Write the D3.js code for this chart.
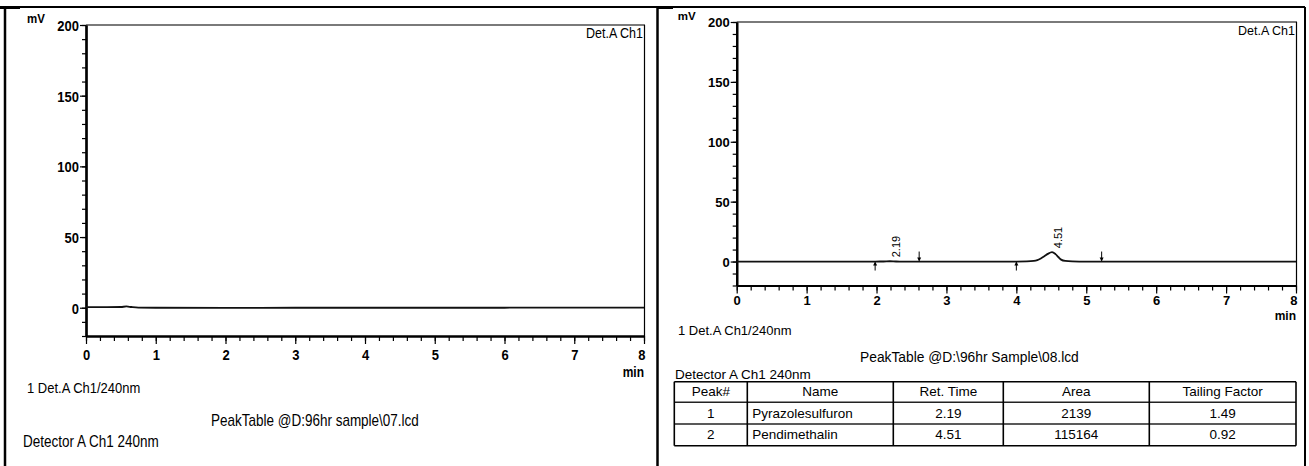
<!DOCTYPE html>
<html><head><meta charset="utf-8">
<script src="https://cdn.jsdelivr.net/npm/d3@7"></script>
<style>
body{margin:0;background:#fff}
svg{display:block}
text{font-family:"Liberation Sans",Arial,sans-serif;fill:#000}
</style>
</head><body>
<svg id="c" width="1309" height="466"></svg>
<script>
// Axis ticks: time (min) and detector signal (mV)
const timeTicks = [0, 1, 2, 3, 4, 5, 6, 7, 8];
const timeMinorStep = 0.2;
const mvTicks = [0, 50, 100, 150, 200];
const mvMinorStep = 10;
const mvDomain = [-20, 200];
const timeDomain = [0, 8];

// Sample 07 (blank) trace
const run07Time   = [0, 0.3, 0.5, 0.58, 0.65, 0.75, 1.0, 2.0, 3.0, 4.0, 5.0, 6.0, 7.0, 8.0];
const run07Signal = [0.4, 0.4, 0.5, 0.9, 0.5, 0.1, 0, -0.1, 0, 0, 0, 0, 0.1, 0.1];

// Sample 08 trace
const run08Time   = [0, 1.0, 1.98, 2.1, 2.19, 2.28, 2.4, 3.0, 4.0, 4.15, 4.25, 4.3, 4.35, 4.4, 4.45, 4.51, 4.56, 4.6, 4.64, 4.7, 4.8, 5.0, 6.0, 7.0, 8.0];
const run08Signal = [0, 0, 0, 0.05, 0.25, 0.05, 0, 0, 0, 0.1, 0.5, 1.2, 2.6, 4.4, 6.4, 7.8, 6.2, 3.8, 1.6, 0.5, 0.15, 0, 0, 0, 0];

// Integration start / end marks for sample 08
const peakStart = [1.98, 4.0];
const peakEnd   = [2.61, 5.22];

// Peak table for sample 08
const tableHeader = ["Peak#", "Name", "Ret. Time", "Area", "Tailing Factor"];
const peakNo   = [1, 2];
const peakName = ["Pyrazolesulfuron", "Pendimethalin"];
const retTime  = [2.19, 4.51];
const peakArea = [2139, 115164];
const tailing  = [1.49, 0.92];

const svg = d3.select("#c");

// outer frame of the two report panels
const frame = svg.append("g").attr("stroke", "#000").attr("fill", "none");
frame.append("line").attr("x1", 0).attr("x2", 1305).attr("y1", 7).attr("y2", 7).attr("stroke-width", 2);
frame.append("line").attr("x1", 0).attr("x2", 20).attr("y1", 7.5).attr("y2", 7.5).attr("stroke-width", 3);
frame.append("line").attr("x1", 657).attr("x2", 673).attr("y1", 7.5).attr("y2", 7.5).attr("stroke-width", 3);
frame.append("line").attr("x1", 5).attr("x2", 5).attr("y1", 7).attr("y2", 466).attr("stroke-width", 2.5);
frame.append("line").attr("x1", 657.5).attr("x2", 657.5).attr("y1", 7).attr("y2", 466).attr("stroke-width", 2.5);
frame.append("line").attr("x1", 1305).attr("x2", 1305).attr("y1", 7).attr("y2", 466).attr("stroke-width", 2);

function range(a, b, step) {
  return d3.range(Math.round(a / step), Math.round(b / step) + 1).map(i => +(i * step).toFixed(6));
}

// the left report page is printed slightly taller: stretch its text vertically
function stretchText(sel, sy) {
  sel.selectAll("text").each(function () {
    const t = d3.select(this);
    const tx = +t.attr("x") || 0, ty = +t.attr("y") || 0;
    const prev = t.attr("transform") || "";
    t.attr("transform", `${prev} translate(${tx},${ty}) scale(1,${sy}) translate(${-tx},${-ty})`);
  });
}

function drawChromatogram(o) {
  const g = svg.append("g");
  const x = d3.scaleLinear().domain(timeDomain).range([o.left, o.right]);
  const y = d3.scaleLinear().domain(mvDomain).range([o.bottom, o.top]);

  // plot box: grey top rule, thin right rule
  g.append("line").attr("x1", o.left).attr("x2", o.right + 1).attr("y1", o.top).attr("y2", o.top)
    .attr("stroke", "#7a7a7a").attr("stroke-width", 2);
  g.append("line").attr("x1", o.right + 0.5).attr("x2", o.right + 0.5).attr("y1", o.top).attr("y2", o.bottom)
    .attr("stroke", "#000").attr("stroke-width", 1.2);

  // y axis: minor then major ticks
  const yMinor = g.append("g").attr("transform", `translate(${o.left},0)`)
    .call(d3.axisLeft(y).tickValues(range(mvDomain[0], mvDomain[1], mvMinorStep)).tickSize(4).tickSizeOuter(0).tickFormat(""));
  const yMajor = g.append("g").attr("transform", `translate(${o.left},0)`)
    .call(d3.axisLeft(y).tickValues(mvTicks).tickSize(6).tickSizeOuter(0).tickPadding(1).tickFormat(d3.format("d")));
  [yMinor, yMajor].forEach(a => {
    a.select(".domain").attr("stroke", "#000").attr("stroke-width", 2.2);
    a.selectAll(".tick line").attr("stroke", "#000").attr("stroke-width", 1.2);
  });
  yMajor.selectAll(".tick text").attr("dy", "0.35em")
    .style("font-family", '"Liberation Sans",Arial,sans-serif').style("font-size", "13px").style("font-weight", "bold");

  // x axis: minor then major ticks
  const xMinor = g.append("g").attr("transform", `translate(0,${o.bottom})`)
    .call(d3.axisBottom(x).tickValues(range(timeDomain[0], timeDomain[1], timeMinorStep)).tickSize(5).tickSizeOuter(0).tickFormat(""));
  const xMajor = g.append("g").attr("transform", `translate(0,${o.bottom})`)
    .call(d3.axisBottom(x).tickValues(timeTicks).tickSize(8).tickSizeOuter(0).tickFormat(d3.format("d")));
  [xMinor, xMajor].forEach(a => {
    a.select(".domain").attr("stroke", "#000").attr("stroke-width", 2.2);
    a.selectAll(".tick line").attr("stroke", "#000").attr("stroke-width", 1.2);
  });
  xMajor.selectAll(".tick text").attr("y", o.xLabelOffset).attr("dy", 0)
    .style("font-family", '"Liberation Sans",Arial,sans-serif').style("font-size", "13px").style("font-weight", "bold")
    .filter(d => d === timeDomain[1]).attr("text-anchor", "end").attr("x", 1);
  g.append("text").attr("x", o.right).attr("y", o.bottom + o.minOffset).attr("text-anchor", "end")
    .style("font-size", "12px").style("font-weight", "bold").text("min");

  // signal trace
  const line = d3.line().x(d => x(d[0])).y(d => y(d[1])).curve(d3.curveMonotoneX);
  g.append("path").datum(d3.zip(o.time, o.signal)).attr("d", line)
    .attr("fill", "none").attr("stroke", "#111").attr("stroke-width", 1.8);

  // labels in the plot corners
  g.append("text").attr("x", o.left - 59).attr("y", o.top - 2).style("font-size", "11.5px").style("font-weight", "bold").text("mV");
  g.append("text").attr("x", o.right - 1).attr("y", o.top + 13).attr("text-anchor", "end").style("font-size", "12.5px").text("Det.A Ch1");

  return { g, x, y };
}

// left panel: sample 07
const left = drawChromatogram({
  left: 86, right: 644, top: 25, bottom: 336, xLabelOffset: 24, minOffset: 41,
  time: run07Time, signal: run07Signal
});
left.g.append("text").attr("x", 27).attr("y", 393).style("font-size", "13px").text("1  Det.A Ch1/240nm");
left.g.append("text").attr("x", 211).attr("y", 426).style("font-size", "13.5px").text("PeakTable @D:96hr sample\\07.lcd");
left.g.append("text").attr("x", 23).attr("y", 447).style("font-size", "13.5px").text("Detector A Ch1 240nm");
stretchText(left.g, 1.18);

// right panel: sample 08
const right = drawChromatogram({
  left: 736.7, right: 1296, top: 22, bottom: 285.5, xLabelOffset: 19.5, minOffset: 34.5,
  time: run08Time, signal: run08Signal
});
right.g.append("text").attr("x", 678).attr("y", 335).style("font-size", "13px").text("1  Det.A Ch1/240nm");
right.g.append("text").attr("x", 860).attr("y", 362).style("font-size", "13.8px").text("PeakTable  @D:\\96hr Sample\\08.lcd");
right.g.append("text").attr("x", 675).attr("y", 379).style("font-size", "13.5px").text("Detector A Ch1 240nm");

// integration marks: up arrows at peak start, down arrows at peak end
const signalAt = t => {
  const i = d3.bisectLeft(run08Time, t);
  if (i <= 0) return run08Signal[0];
  if (i >= run08Time.length) return run08Signal[run08Signal.length - 1];
  const t0 = run08Time[i - 1], t1 = run08Time[i];
  return run08Signal[i - 1] + (run08Signal[i] - run08Signal[i - 1]) * (t - t0) / (t1 - t0);
};
const marks = right.g.append("g").attr("stroke", "#000").attr("fill", "#000");
peakStart.forEach(t => {
  const px = right.x(t), py = right.y(signalAt(t));
  marks.append("line").attr("x1", px).attr("x2", px).attr("y1", py + 9).attr("y2", py + 1).attr("stroke-width", 1);
  marks.append("path").attr("d", `M${px},${py}L${px - 2},${py + 4}L${px + 2},${py + 4}Z`).attr("stroke", "none");
});
peakEnd.forEach(t => {
  const px = right.x(t), py = right.y(signalAt(t));
  marks.append("line").attr("x1", px).attr("x2", px).attr("y1", py - 10).attr("y2", py - 1).attr("stroke-width", 1);
  marks.append("path").attr("d", `M${px},${py}L${px - 2},${py - 4}L${px + 2},${py - 4}Z`).attr("stroke", "none");
});

// retention time labels, rotated above each peak
retTime.forEach(t => {
  const px = right.x(t) + 10, py = right.y(signalAt(t)) - 4;
  right.g.append("text").attr("transform", `translate(${px},${py}) rotate(-90)`)
    .style("font-size", "11px").text(d3.format(".2f")(t));
});

// peak table
const colEdges = [674.3, 747.3, 893.3, 1003.3, 1149.3, 1296];
const rowEdges = [381.7, 402.3, 424, 445.7];
const tbl = svg.append("g");
const tLines = tbl.append("g").attr("stroke", "#000").attr("stroke-width", 1.6);
rowEdges.forEach((ry, i) => tLines.append("line").attr("x1", colEdges[0]).attr("x2", colEdges[colEdges.length - 1])
  .attr("y1", ry).attr("y2", ry).attr("stroke", i === 0 || i === rowEdges.length - 1 ? "#000" : "#222"));
colEdges.forEach(cx => tLines.append("line").attr("x1", cx).attr("x2", cx)
  .attr("y1", rowEdges[0]).attr("y2", rowEdges[rowEdges.length - 1]));

const mid = i => (colEdges[i] + colEdges[i + 1]) / 2;
tableHeader.forEach((h, i) => tbl.append("text").attr("x", mid(i)).attr("y", rowEdges[1] - 6.5)
  .attr("text-anchor", "middle").style("font-size", "13.5px").text(h));
peakNo.forEach((n, r) => {
  const by = rowEdges[r + 2] - 6.5;
  const cells = [String(n), peakName[r], d3.format(".2f")(retTime[r]), String(peakArea[r]), d3.format(".2f")(tailing[r])];
  cells.forEach((c, i) => tbl.append("text")
    .attr("x", i === 1 ? colEdges[1] + 5 : mid(i)).attr("y", by)
    .attr("text-anchor", i === 1 ? "start" : "middle").style("font-size", "13.5px").text(c));
});
</script>
</body></html>
